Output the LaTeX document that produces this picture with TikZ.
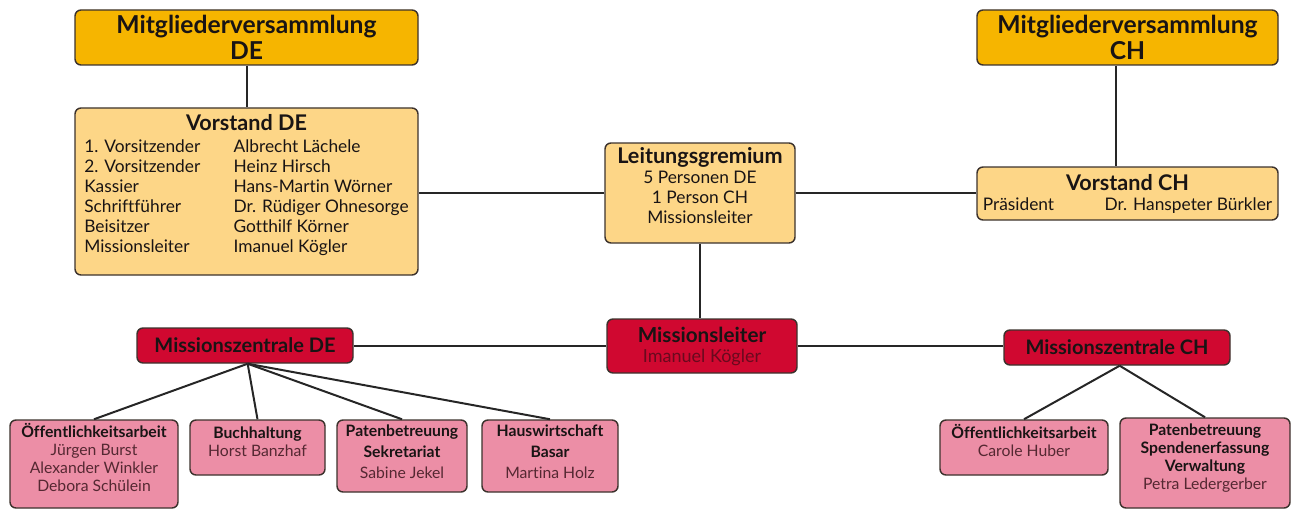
\documentclass[tikz,border=0pt]{standalone}
\usepackage{fontspec}
\setmainfont{Lato}[Ligatures=NoCommon]
\definecolor{gold}{RGB}{246,181,0}
\definecolor{lightgold}{RGB}{253,214,135}
\definecolor{crimson}{RGB}{208,8,48}
\definecolor{rosa}{RGB}{236,142,166}
\definecolor{edge}{RGB}{60,50,45}
\definecolor{txt}{RGB}{25,20,20}
\definecolor{redsub}{RGB}{105,10,30}
\definecolor{pinksub}{RGB}{85,40,50}
\newcommand{\bodyfont}{\fontsize{13}{15}\selectfont}
\newcommand{\pinkfont}{\fontsize{11.8}{13.5}\selectfont}
\newcommand{\ttl}[1]{{\fontsize{16.2}{15}\selectfont\bfseries #1}}
\newcommand{\pinkttl}[1]{{\bfseries #1}}
\newcommand{\pinkname}[1]{{\color{pinksub}#1}}
\newcommand{\liftup}[2]{\raisebox{0pt}[\height][\dimexpr\depth+#1\relax]{#2}}
\newcommand{\stack}[2]{\liftup{#1}{\begin{tabular}{@{}c@{}}#2\end{tabular}}}
\tikzset{
  box/.style={draw=edge, line width=1.1pt, rounded corners=4.5pt, inner sep=0pt, align=center, text=txt},
  mvbox/.style={box, fill=gold, font=\fontsize{18.5}{19.5}\selectfont\bfseries},
  ybox/.style={box, fill=lightgold, font=\bodyfont},
  rbox/.style={box, fill=crimson},
  pbox/.style={box, fill=rosa, font=\pinkfont},
  conn/.style={line width=1.5pt, draw=black!85}
}
\begin{document}
\begin{tikzpicture}[x=0.75pt,y=-0.75pt]
\useasboundingbox (0,0) rectangle (1293,510);
% top level
\node[mvbox, minimum width=257.25pt, minimum height=41.25pt] (mvde) at (246.5,37.5) {\raisebox{-1.5pt}{Mitgliederversammlung}\\\raisebox{-1.5pt}{DE}};
\node[mvbox, minimum width=225.75pt, minimum height=41.25pt] (mvch) at (1127.5,37.5) {\raisebox{-1.5pt}{Mitgliederversammlung}\\\raisebox{-1.5pt}{CH}};
% Vorstand DE
\node[ybox, minimum width=257.25pt, minimum height=125.25pt] (vde) at (246.5,191.5) {%
  \liftup{7.5pt}{\begin{tabular}{@{}p{112pt}@{}l@{}}
  \multicolumn{2}{c}{\ttl{Vorstand DE}}\\[1pt]
  1. Vorsitzender & Albrecht Lächele\\
  2. Vorsitzender & Heinz Hirsch\\
  Kassier & Hans-Martin Wörner\\
  Schriftführer & Dr. Rüdiger Ohnesorge\\
  Beisitzer & Gotthilf Körner\\
  Missionsleiter & Imanuel Kögler
  \end{tabular}}};
% Leitungsgremium
\node[ybox, minimum width=142.5pt, minimum height=75pt] (lg) at (700,193) {%
  \stack{7.5pt}{\ttl{Leitungsgremium}\\5 Personen DE\\1 Person CH\\Missionsleiter}};
% Vorstand CH
\node[ybox, minimum width=225.75pt, minimum height=39.75pt] (vch) at (1127.5,193.5) {%
  \ttl{Vorstand CH}\\\makebox[217pt]{Präsident\hfill Dr. Hanspeter Bürkler}};
% Missionsleiter
\node[rbox, minimum width=142.5pt, minimum height=40.5pt, font=\fontsize{13.5}{15}\selectfont] (ml) at (702,346) {%
  {\fontsize{15.5}{15}\selectfont\bfseries Missionsleiter}\\{\color{redsub}Imanuel Kögler}};
\node[rbox, minimum width=162pt, minimum height=26.25pt, font=\fontsize{15}{16}\selectfont\bfseries] (mzde) at (245,345.5) {Missionszentrale DE};
\node[rbox, minimum width=169.5pt, minimum height=26.25pt, font=\fontsize{15}{16}\selectfont\bfseries] (mzch) at (1117,347.5) {Missionszentrale CH};
% pink DE
\node[pbox, minimum width=126pt, minimum height=66pt] (oede) at (94,464) {\stack{6.5pt}{\pinkttl{Öffentlichkeitsarbeit}\\\pinkname{Jürgen Burst}\\\pinkname{Alexander Winkler}\\\pinkname{Debora Schülein}}};
\node[pbox, minimum width=101.25pt, minimum height=41.25pt] (buch) at (257.5,447.5) {\stack{6pt}{\pinkttl{Buchhaltung}\\\pinkname{Horst Banzhaf}}};
\node[pbox, minimum width=97.5pt, minimum height=54pt] (pate) at (402,456) {\stack{3pt}{\pinkttl{Patenbetreuung}\\[2pt]\pinkttl{Sekretariat}\\[2pt]\pinkname{Sabine Jekel}}};
\node[pbox, minimum width=102pt, minimum height=54pt] (haus) at (550,456) {\stack{3pt}{\pinkttl{Hauswirtschaft}\\[2pt]\pinkttl{Basar}\\[2pt]\pinkname{Martina Holz}}};
% pink CH
\node[pbox, minimum width=126pt, minimum height=41.25pt] (oech) at (1024,447.5) {\stack{6pt}{\pinkttl{Öffentlichkeitsarbeit}\\\pinkname{Carole Huber}}};
\node[pbox, minimum width=127.5pt, minimum height=67.5pt] (pach) at (1205,463) {\stack{6pt}{\pinkttl{Patenbetreuung}\\\pinkttl{Spendenerfassung}\\\pinkttl{Verwaltung}\\\pinkname{Petra Ledergerber}}};
% connectors
\draw[conn] (mvde.south) -- (vde.north);
\draw[conn] ([xshift=-8.6pt]mvch.south) -- ([xshift=-8.6pt]vch.north);
\draw[conn] (lg.west) -- (lg.west -| vde.east);
\draw[conn] (lg.east) -- (lg.east -| vch.west);
\draw[conn] (lg.south) -- (lg.south |- ml.north);
\draw[conn] (mzde.east) -- (mzde.east -| ml.west);
\draw[conn] (ml.east) -- (ml.east -| mzch.west);
\coordinate (fde) at ([xshift=2pt]mzde.south);
\foreach \t in {oede,buch,pate,haus} \draw[conn] (fde) -- (\t.north);
\coordinate (fch) at ([xshift=2pt]mzch.south);
\foreach \t in {oech,pach} \draw[conn] (fch) -- (\t.north);
\end{tikzpicture}
\end{document}
